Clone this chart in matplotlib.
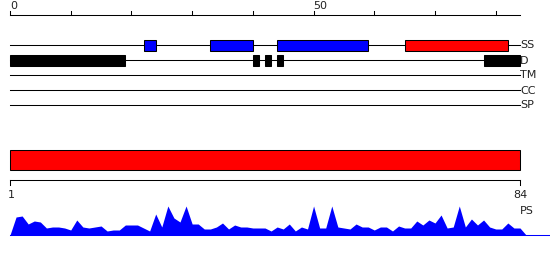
import matplotlib
matplotlib.use("Agg")
import matplotlib.pyplot as plt

# ── Datos ────────────────────────────────────────────────────────────────────
seq_len = 84
top_ticks = [0, 10, 20, 30, 40, 50, 60, 70, 80]
top_tick_labels = {0: "0", 50: "50"}

track_names = ["SS", "D", "TM", "CC", "SP"]

ss_start = [22, 33, 44, 65]
ss_end = [24, 40, 59, 82]
ss_kind = ["E", "E", "E", "H"]

dis_start = [0, 40, 42, 44, 78]
dis_end = [19, 41, 43, 45, 84]

domain_start = [0]
domain_end = [84]

scale_labels = ["1", "84"]

# perfil PS, posiciones 0..85
ps_values = [0, 18, 19, 11, 14, 13, 7, 8, 8, 7, 5, 15, 8, 7, 8, 9, 4, 5, 5, 10,
             10, 10, 7, 4, 21, 8, 29, 17, 13, 29, 11, 11, 6, 6, 8, 12, 6, 10, 8, 8,
             7, 7, 7, 4, 8, 6, 11, 4, 8, 6, 29, 7, 7, 29, 8, 7, 6, 11, 8, 8,
             5, 8, 8, 4, 9, 7, 7, 14, 10, 15, 12, 20, 7, 8, 29, 8, 16, 10, 15, 8,
             6, 6, 12, 7, 7, 0]

# ── Estilo ───────────────────────────────────────────────────────────────────
KIND_COLOR = {"E": "#0000ff", "H": "#ff0000"}
LW = 0.75
TXT = "#222222"
ppu = 510 / seq_len          # pixeles por residuo
row_y = {"SS": 45, "D": 60, "TM": 75, "CC": 90, "SP": 105}

fig = plt.figure(figsize=(5.5, 2.6), dpi=100)
ax = fig.add_axes([0, 0, 1, 1])
ax.set_xlim(-10 / ppu, 540 / ppu)
ax.set_ylim(260, 0)
ax.axis("off")

# regla superior
ax.plot([0, seq_len], [15, 15], color="black", lw=LW)
for t in top_ticks:
    ax.plot([t, t], [15, 11], color="black", lw=LW)
    if t in top_tick_labels:
        ax.text(t, 6, top_tick_labels[t], fontsize=8, color=TXT, ha="left", va="center")

# pistas
for name in track_names:
    y = row_y[name]
    ax.plot([0, seq_len], [y, y], color="black", lw=LW, zorder=1)
    ax.text(seq_len + 0.05, y + 0.5, name, fontsize=8, color=TXT, ha="left", va="center")

for s, e, k in zip(ss_start, ss_end, ss_kind):
    ax.barh(row_y["SS"] + 0.5, e - s, left=s, height=11, color=KIND_COLOR[k],
            edgecolor="black", lw=LW, zorder=2)

for s, e in zip(dis_start, dis_end):
    ax.barh(row_y["D"] + 0.5, e - s, left=s, height=11, color="black",
            edgecolor="black", lw=LW, zorder=2)

# dominio
for s, e in zip(domain_start, domain_end):
    ax.barh(160, e - s, left=s, height=20, color="#ff0000", edgecolor="black", lw=LW)

# escala inferior
ax.plot([0, seq_len], [180, 180], color="black", lw=LW)
for pos, lab in zip([0, seq_len], scale_labels):
    ax.plot([pos, pos], [180, 185], color="black", lw=LW)
    ax.text(pos + (0.15 if lab == "1" else 0), 195.5, lab, fontsize=8, color=TXT,
            ha="center", va="center")

# perfil PS
xs = list(range(len(ps_values)))
ys = [235 - v for v in ps_values]
ax.fill_between(xs, ys, 235, color="#0000ff", lw=0)
ax.plot([0, 540 / ppu], [235, 235], color="#0000ff", lw=LW)
ax.text(seq_len + 1.2, 211, "PS", fontsize=8, color=TXT, ha="center", va="center")

fig.savefig("out.png", dpi=100)
